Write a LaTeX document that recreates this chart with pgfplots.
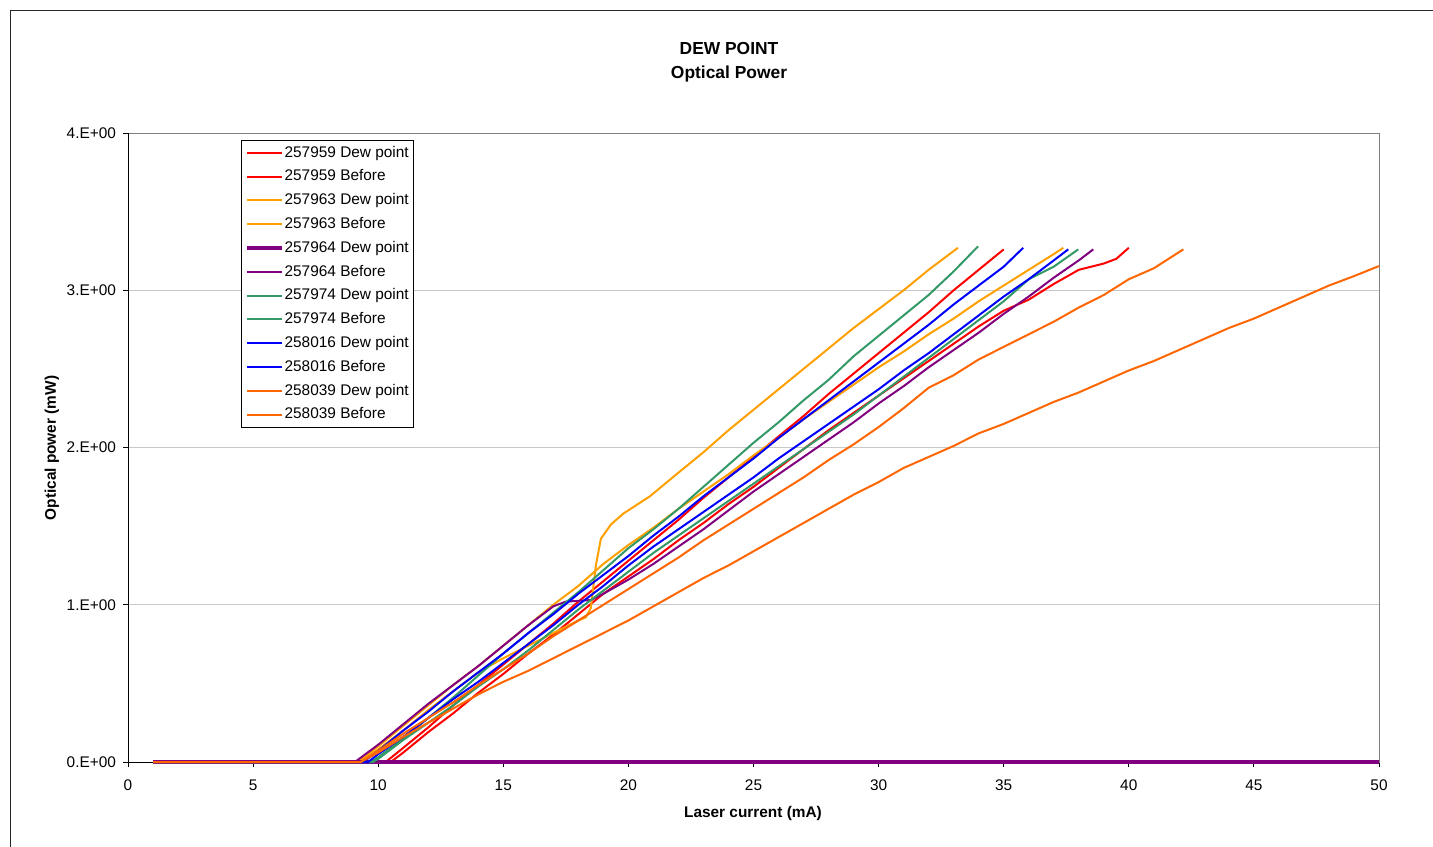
\documentclass[border=0pt]{standalone}
\usepackage{fontspec}
\setmainfont{Liberation Sans}
\usepackage{pgfplots}
\pgfplotsset{compat=1.18}

\definecolor{xred}{RGB}{255,0,0}
\definecolor{xlorange}{RGB}{255,160,0}
\definecolor{xpurple}{RGB}{128,0,128}
\definecolor{xgreen}{RGB}{51,153,102}
\definecolor{xblue}{RGB}{0,0,255}
\definecolor{xdorange}{RGB}{255,102,0}
\definecolor{gridgray}{RGB}{200,200,200}

\begin{document}
\begin{tikzpicture}[font=\fontsize{7.7}{9}\selectfont]
\useasboundingbox (0,0) rectangle (716.5pt,-423pt);
% chart area frame (cut by the page on the right and bottom)
\draw[black!85, line width=0.5pt] (5pt,-430pt) -- (5pt,-5pt) -- (720pt,-5pt);
\node[font=\fontsize{8.7}{10}\selectfont\bfseries] at (364.5pt,-24.5pt) {DEW POINT};
\node[font=\fontsize{8.7}{10}\selectfont\bfseries] at (364.5pt,-37pt) {Optical Power};
\node[font=\fontsize{7.7}{9}\selectfont\bfseries] at (376.5pt,-407pt) {Laser current (mA)};
\node[font=\fontsize{7.7}{9}\selectfont\bfseries, rotate=90] at (26pt,-224pt) {Optical power (mW)};

\begin{axis}[
    scale only axis,
    width=625.5pt, height=314.5pt,
    at={(64pt,-381pt)}, anchor=south west,
    xmin=0, xmax=50, ymin=0, ymax=4,
    xtick={0,5,...,50},
    ytick={0,1,2,3,4},
    yticklabels={0.E+00,1.E+00,2.E+00,3.E+00,4.E+00},
    xtick pos=lower, ytick pos=left,
    xticklabel style={yshift=-3pt},
    /pgf/number format/assume math mode=true,
    tick align=outside,
    major tick length=2.5pt,
    tick style={black, line width=0.5pt},
    axis line style={draw=gray, line width=0.5pt},
    ymajorgrids,
    grid style={gridgray, line width=0.5pt},
    clip=false,
    every axis plot/.append style={line width=1pt, line join=round},
    legend cell align=left,
    legend style={at={(0.0903,0.9889)}, anchor=north west, draw=black,
        line width=0.5pt, inner xsep=2pt, inner ysep=2pt, row sep=3.5pt,
        nodes={inner sep=0.5pt, text height=5.8pt, text depth=1.6pt}},
]
\draw[black, line width=0.5pt] (rel axis cs:0,0) -- (rel axis cs:0,1);
\draw[black, line width=0.5pt] (rel axis cs:0,0) -- (rel axis cs:1,0);

% 257959 Dew point
\addplot[xred] coordinates {
(1,0)(10.3,0)(11,0.09)(12,0.22)(13,0.36)(14,0.49)(15,0.62)(16,0.75)(17,0.88)
(18,1.02)(19,1.15)(20,1.28)(21,1.41)(22,1.54)(23,1.68)(24,1.81)(25,1.94)
(26,2.07)(27,2.20)(28,2.34)(29,2.47)(30,2.60)(31,2.73)(32,2.86)(33,3.00)
(34,3.13)(35,3.26)
};
\addlegendentry{257959 Dew point}
% 257959 Before
\addplot[xred] coordinates {
(1,0)(10.5,0)(11,0.06)(12,0.19)(13,0.31)(14,0.44)(15,0.56)(16,0.69)(17,0.81)
(18,0.94)(19,1.07)(20,1.18)(21,1.29)(22,1.41)(23,1.52)(24,1.64)(25,1.75)
(26,1.87)(27,1.99)(28,2.11)(29,2.22)(30,2.33)(31,2.44)(32,2.55)(33,2.66)
(34,2.77)(35,2.87)(36,2.94)(37,3.04)(38,3.13)(39,3.17)(39.5,3.20)(40,3.27)
};
\addlegendentry{257959 Before}
% 257963 Dew point
\addplot[xlorange] coordinates {
(1,0)(9.2,0)(10,0.08)(11,0.20)(12,0.33)(13,0.45)(14,0.57)(15,0.66)(16,0.74)
(17,0.82)(18,0.90)(18.3,0.92)(18.5,0.98)(18.7,1.25)(18.9,1.42)(19.3,1.51)
(19.8,1.58)(20.86,1.69)(22,1.84)(23,1.97)(24,2.11)(25,2.24)(26,2.37)
(27,2.50)(28,2.63)(29,2.76)(30,2.88)(31,3.00)(32,3.13)(33.17,3.27)
};
\addlegendentry{257963 Dew point}
% 257963 Before
\addplot[xlorange] coordinates {
(1,0)(9.2,0)(10,0.10)(11,0.23)(12,0.36)(13,0.49)(14,0.61)(15,0.74)(16,0.87)
(17,1.00)(18,1.12)(19,1.26)(20,1.38)(21,1.49)(22,1.61)(23,1.72)(24,1.83)
(25,1.95)(26,2.06)(27,2.18)(28,2.29)(29,2.40)(30,2.51)(31,2.61)(32,2.72)
(33,2.82)(34,2.93)(35,3.03)(36,3.13)(37,3.23)(37.38,3.27)
};
\addlegendentry{257963 Before}
% 257964 Dew point
\addplot[xpurple, line width=2pt] coordinates {
(1,0)(10,0)(20,0)(30,0)(40,0)(50,0)
};
\addlegendentry{257964 Dew point}
% 257964 Before
\addplot[xpurple] coordinates {
(1,0)(9.07,0)(10,0.11)(11,0.24)(12,0.37)(13,0.49)(14,0.61)(15,0.74)(16,0.87)
(17,0.99)(17.5,1.02)(18,1.025)(18.5,1.03)(19,1.07)(20,1.16)(21,1.26)
(22,1.37)(23,1.48)(24,1.60)(25,1.72)(26,1.83)(27,1.94)(28,2.05)(29,2.16)
(30,2.28)(31,2.39)(32,2.51)(33,2.62)(34,2.73)(35,2.85)(36,2.96)(37,3.08)
(38,3.19)(38.58,3.26)
};
\addlegendentry{257964 Before}
% 257974 Dew point
\addplot[xgreen] coordinates {
(1,0)(9.7,0)(10,0.03)(11,0.15)(12,0.28)(13,0.41)(14,0.55)(15,0.69)(16,0.82)
(17,0.95)(18,1.08)(19,1.22)(20,1.36)(21,1.48)(22,1.61)(23,1.75)(24,1.89)
(25,2.03)(26,2.16)(27,2.30)(28,2.43)(29,2.58)(30,2.71)(31,2.84)(32,2.97)
(33,3.12)(33.98,3.28)
};
\addlegendentry{257974 Dew point}
% 257974 Before
\addplot[xgreen] coordinates {
(1,0)(9.8,0)(10,0.02)(11,0.14)(12,0.25)(13,0.36)(14,0.48)(15,0.59)(16,0.71)
(17,0.84)(18,0.97)(19,1.09)(20,1.21)(21,1.33)(22,1.44)(23,1.55)(24,1.66)
(25,1.77)(26,1.88)(27,1.99)(28,2.10)(29,2.21)(30,2.33)(31,2.45)(32,2.57)
(33,2.69)(34,2.81)(35,2.93)(36,3.07)(37,3.15)(37.98,3.26)
};
\addlegendentry{257974 Before}
% 258016 Dew point
\addplot[xblue] coordinates {
(1,0)(9.4,0)(10,0.07)(11,0.20)(12,0.32)(13,0.45)(14,0.57)(15,0.69)(16,0.82)
(17,0.94)(18,1.07)(19,1.19)(20,1.31)(21,1.44)(22,1.56)(23,1.69)(24,1.81)
(25,1.93)(26,2.06)(27,2.18)(28,2.30)(29,2.42)(30,2.54)(31,2.66)(32,2.78)
(33,2.91)(34,3.03)(35,3.15)(35.78,3.27)
};
\addlegendentry{258016 Dew point}
% 258016 Before
\addplot[xblue] coordinates {
(1,0)(9.6,0)(10,0.05)(11,0.16)(12,0.28)(13,0.40)(14,0.51)(15,0.63)(16,0.75)
(17,0.87)(18,1.00)(19,1.12)(20,1.25)(21,1.37)(22,1.48)(23,1.59)(24,1.70)
(25,1.81)(26,1.93)(27,2.04)(28,2.15)(29,2.26)(30,2.37)(31,2.49)(32,2.60)
(33,2.72)(34,2.84)(35,2.96)(36,3.07)(37,3.19)(37.58,3.26)
};
\addlegendentry{258016 Before}
% 258039 Dew point
\addplot[xdorange] coordinates {
(1,0)(9.3,0)(10,0.07)(11,0.18)(12,0.28)(13,0.38)(14,0.49)(15,0.59)(16,0.69)
(17,0.80)(18,0.90)(19,1.00)(20,1.10)(21,1.20)(22,1.30)(23,1.41)(24,1.51)
(25,1.61)(26,1.71)(27,1.81)(28,1.92)(29,2.02)(30,2.13)(31,2.25)(32,2.38)
(33,2.46)(34,2.56)(35,2.64)(36,2.72)(37,2.80)(38,2.89)(39,2.97)(40,3.07)
(41,3.14)(42.18,3.26)
};
\addlegendentry{258039 Dew point}
% 258039 Before
\addplot[xdorange] coordinates {
(1,0)(9.3,0)(10,0.06)(11,0.16)(12,0.25)(13,0.34)(14,0.43)(15,0.51)(16,0.58)
(17,0.66)(18,0.74)(19,0.82)(20,0.90)(21,0.99)(22,1.08)(23,1.17)(24,1.25)
(25,1.34)(26,1.43)(27,1.52)(28,1.61)(29,1.70)(30,1.78)(31,1.87)(32,1.94)
(33,2.01)(34,2.09)(35,2.15)(36,2.22)(37,2.29)(38,2.35)(39,2.42)(40,2.49)
(41,2.55)(42,2.62)(43,2.69)(44,2.76)(45,2.82)(46,2.89)(47,2.96)(48,3.03)
(49,3.09)(50,3.154)
};
\addlegendentry{258039 Before}
\end{axis}
\end{tikzpicture}
\end{document}
